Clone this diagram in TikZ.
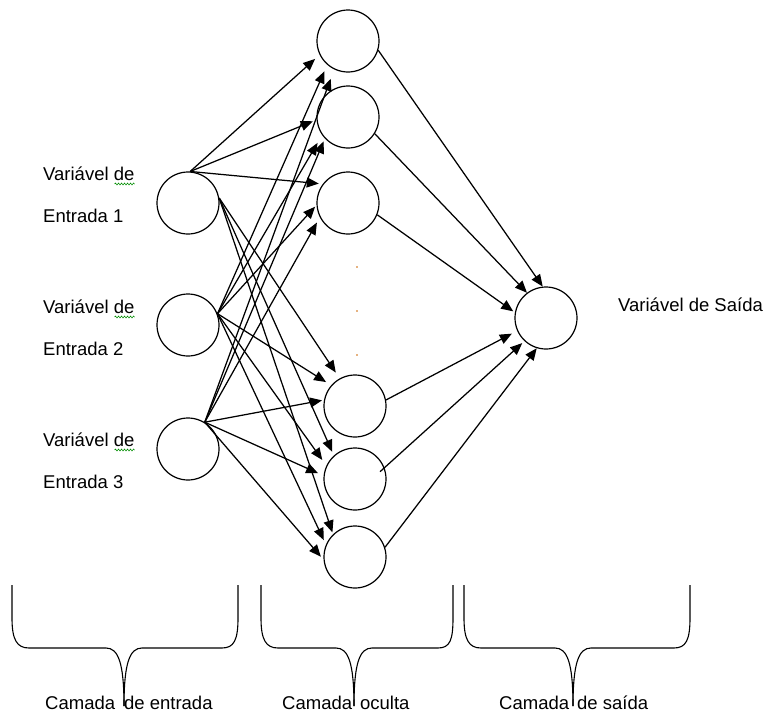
\documentclass[tikz,border=0pt]{standalone}
\usepackage{fontspec}
\setmainfont{Liberation Sans}
\usetikzlibrary{arrows.meta,decorations.pathmorphing}
\begin{document}
\begin{tikzpicture}[x=1pt,y=-1pt,
  neuron/.style={circle,draw,line width=1.2pt,minimum size=62pt,inner sep=0pt},
  conn/.style={line width=1.25pt,-{Triangle[length=12pt,width=10pt]}},
  lbl/.style={font=\fontsize{18.5}{22}\selectfont,inner sep=0pt,anchor=base west,text=black},
  layerlbl/.style={font=\fontsize{18.5}{21}\selectfont,inner sep=0pt,anchor=base west,text=black},
  bracepath/.style={line width=1.1pt},
  squig/.style={green!55!black,line width=0.6pt,decorate,decoration={snake,amplitude=0.9pt,segment length=3pt}},
  tinydot/.style={fill=orange!80!black}
]
\path[use as bounding box] (0,0) rectangle (769,715);

% input layer
\node[neuron] (I1) at (188,203) {};
\node[neuron] (I2) at (188,325) {};
\node[neuron] (I3) at (188,449) {};
% hidden layer
\node[neuron] (H1) at (348,41) {};
\node[neuron] (H2) at (348,117) {};
\node[neuron] (H3) at (348,203) {};
\node[neuron] (H4) at (355,406) {};
\node[neuron] (H5) at (355,479) {};
\node[neuron] (H6) at (355,557) {};
% output
\node[neuron] (O) at (546,318) {};

% dots
\fill[tinydot] (357,267) circle (0.8);
\fill[tinydot] (357,311) circle (0.8);
\fill[tinydot] (357,355) circle (0.8);

% input -> hidden (upper)
\draw[conn,shorten >=6pt] (I1.86) -- (H1.206);
\draw[conn,shorten >=4pt] (I1.86) -- (H2.185);
\draw[conn,shorten >=4pt] (I1.86) -- (H3.143);
\draw[conn,shorten >=7pt] (I2.21) -- (H1.229);
\draw[conn,shorten >=9pt] (I2.21) -- (H2.215);
\draw[conn,shorten >=2pt] (I2.21) -- (H3.184);
\draw[conn,shorten >=10pt] (I3.58) -- (H1.244);
\draw[conn,shorten >=3pt] (I3.58) -- (H2.223);
\draw[conn,shorten >=6pt] (I3.58) -- (H3.207);
% input -> hidden (lower)
\draw[conn,shorten >=7pt] (I1.9) -- (H4.119);
\draw[conn,shorten >=4pt] (I1.9) -- (H5.132);
\draw[conn,shorten >=2pt] (I1.9) -- (H6.134);
\draw[conn,shorten >=6pt] (I2.21) -- (H4.139);
\draw[conn,shorten >=7pt] (I2.21) -- (H5.155);
\draw[conn,shorten >=5pt] (I2.21) -- (H6.157);
\draw[conn,shorten >=2pt] (I3.58) -- (H4.169);
\draw[conn,shorten >=6pt] (I3.58) -- (H5.174);
\draw[conn,shorten >=4pt] (I3.58) -- (H6.185);
% hidden -> output
\draw[conn] (H1.343) -- (O.96);
\draw[conn] (H2.328) -- (O.127);
\draw[conn,shorten >=2pt] (H3.338) -- (O.170);
\draw[conn,shorten >=6pt] (H4.11) -- (O.204);
\draw[conn,shorten <=-6pt,shorten >=3pt] (H5.21) -- (O.227);
\draw[conn] (H6.18) -- (O.253);

% labels
\node[lbl] (v1a) at (43,180) {Variável de};
\node[lbl] (v1b) at (43,222) {Entrada 1};
\node[lbl] (v2a) at (43,313) {Variável de};
\node[lbl] (v2b) at (43,355) {Entrada 2};
\node[lbl] (v3a) at (43,446) {Variável de};
\node[lbl] (v3b) at (43,488) {Entrada 3};
\node[lbl] (out) at (618,311) {Variável de Saída};
\draw[squig] ([xshift=-20pt,yshift=-4pt]v1a.base east) -- ([yshift=-4pt]v1a.base east);
\draw[squig] ([xshift=-20pt,yshift=-4pt]v2a.base east) -- ([yshift=-4pt]v2a.base east);
\draw[squig] ([xshift=-20pt,yshift=-4pt]v3a.base east) -- ([yshift=-4pt]v3a.base east);

% braces
\draw[bracepath] (12,585) -- (12,618) .. controls (12,640) and (17,648) .. (29,648) -- (106,648) .. controls (118,648) and (124,662) .. (124,706);
\draw[bracepath] (124,706) .. controls (124,662) and (130,648) .. (142,648) -- (222,648) .. controls (234,648) and (238,640) .. (238,618) -- (238,585);
\draw[bracepath] (261,585) -- (261,618) .. controls (261,640) and (266,648) .. (278,648) -- (336,648) .. controls (348,648) and (354,662) .. (354,706);
\draw[bracepath] (354,706) .. controls (354,662) and (360,648) .. (372,648) -- (438,648) .. controls (450,648) and (453,640) .. (453,618) -- (453,585);
\draw[bracepath] (464,585) -- (464,618) .. controls (464,640) and (469,648) .. (481,648) -- (555,648) .. controls (567,648) and (573,662) .. (573,706);
\draw[bracepath] (573,706) .. controls (573,662) and (579,648) .. (591,648) -- (674,648) .. controls (686,648) and (690,640) .. (690,618) -- (690,585);

\node[layerlbl] (c1) at (45,709) {Camada\hspace{9pt}de entrada};
\node[layerlbl] (c2) at (282,709) {Camada\hspace{8pt}oculta};
\node[layerlbl] (c3) at (499,709) {Camada\hspace{8pt}de saída};
\end{tikzpicture}
\end{document}
